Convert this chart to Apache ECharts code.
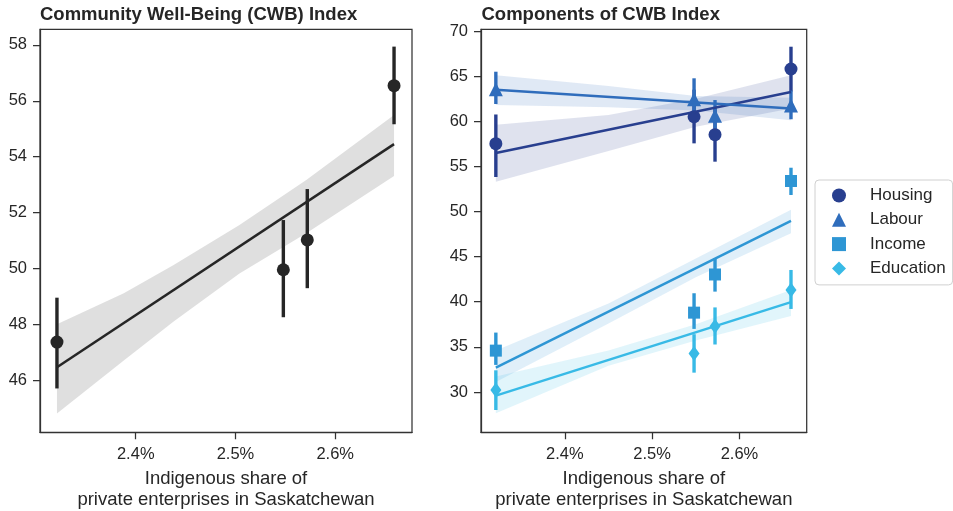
<!DOCTYPE html>
<html>
<head>
<meta charset="utf-8">
<script src="https://cdn.jsdelivr.net/npm/echarts@6/dist/echarts.min.js"></script>
<style>
  html, body { margin: 0; padding: 0; background: #fff; }
  #chart { width: 953px; height: 511px; }
</style>
</head>
<body>
<div id="chart"></div>
<script>
// Indigenous share of private enterprises (%), one value per observation year
const shareX = [2.321, 2.548, 2.572, 2.659];

// Overall CWB index: mean with confidence interval
const cwbMean = [47.36, 49.95, 51.02, 56.54];
const cwbLow  = [45.70, 48.25, 49.29, 55.16];
const cwbHigh = [48.95, 51.73, 52.84, 57.94];
const cwbFit  = [46.46, 54.45];
const cwbBandX = [2.321, 2.388, 2.438, 2.504, 2.571, 2.659];
const cwbBandLow  = [44.80, 46.70, 48.10, 49.82, 51.26, 53.31];
const cwbBandHigh = [48.00, 49.11, 50.12, 51.55, 53.16, 55.49];

// Components
const componentNames = ['Housing', 'Labour', 'Income', 'Education'];

const housingMean = [57.51, 60.50, 58.51, 65.79];
const housingLow  = [53.82, 57.55, 55.52, 63.30];
const housingHigh = [60.75, 63.50, 61.50, 68.26];
const housingFit  = [56.49, 63.25];

const labourMean = [63.54, 62.45, 60.60, 61.75];
const labourLow  = [61.91, 60.40, 59.00, 60.22];
const labourHigh = [65.49, 64.76, 62.35, 63.40];
const labourFit  = [63.50, 61.40];

const incomeMean = [34.58, 38.79, 43.02, 53.38];
const incomeLow  = [33.00, 36.99, 41.12, 51.83];
const incomeHigh = [36.58, 40.94, 44.82, 54.85];
const incomeFit  = [32.70, 48.97];

const educationMean = [30.22, 34.25, 37.27, 41.30];
const educationLow  = [28.00, 32.14, 35.26, 39.20];
const educationHigh = [32.40, 36.40, 39.37, 43.52];
const educationFit  = [29.59, 39.95];

// Confidence bands of the component fits
const compBandX = [2.321, 2.450, 2.550, 2.659];
const housingBandLow    = [53.30, 56.70, 59.40, 61.40];
const housingBandHigh   = [59.60, 60.70, 62.50, 65.10];
const labourBandLow     = [61.80, 61.55, 61.20, 60.10];
const labourBandHigh    = [65.10, 63.90, 62.80, 62.60];
const incomeBandLow     = [31.10, 37.60, 42.70, 47.60];
const incomeBandHigh    = [34.60, 39.80, 44.80, 50.20];
const educationBandLow  = [27.64, 32.90, 35.70, 38.42];
const educationBandHigh = [31.70, 34.60, 37.50, 41.30];

// Tick positions
const xTicks = [2.4, 2.5, 2.6];
const cwbTicks = [46, 48, 50, 52, 54, 56, 58];
const compTicks = [30, 35, 40, 45, 50, 55, 60, 65, 70];

const FONT = 'Liberation Sans, Arial, Helvetica, sans-serif';
const INK = '#262626';

function hexAlpha(hex, a) {
  const n = parseInt(hex.slice(1), 16);
  return 'rgba(' + ((n >> 16) & 255) + ',' + ((n >> 8) & 255) + ',' + (n & 255) + ',' + a + ')';
}

function bandSeries(axis, xs, lo, hi, color) {
  return {
    type: 'custom', xAxisIndex: axis, yAxisIndex: axis, silent: true,
    data: [[xs[0], lo[0]]],
    renderItem: function (params, api) {
      const pts = [];
      for (let i = 0; i < xs.length; i++) pts.push(api.coord([xs[i], hi[i]]));
      for (let i = xs.length - 1; i >= 0; i--) pts.push(api.coord([xs[i], lo[i]]));
      return { type: 'polygon', shape: { points: pts }, style: { fill: hexAlpha(color, 0.15) } };
    }
  };
}

function fitSeries(axis, fit, color) {
  return {
    type: 'line', xAxisIndex: axis, yAxisIndex: axis, silent: true,
    data: [[shareX[0], fit[0]], [shareX[shareX.length - 1], fit[1]]],
    symbol: 'none', lineStyle: { color: color, width: 2.5 }
  };
}

function errSeries(axis, lo, hi, color) {
  return {
    type: 'custom', xAxisIndex: axis, yAxisIndex: axis, silent: true,
    data: shareX.map((x, i) => [x, lo[i], hi[i]]),
    encode: { x: 0, y: [1, 2] },
    renderItem: function (params, api) {
      const a = api.coord([api.value(0), api.value(1)]);
      const b = api.coord([api.value(0), api.value(2)]);
      return { type: 'line', shape: { x1: a[0], y1: a[1], x2: b[0], y2: b[1] },
               style: { stroke: color, lineWidth: 3.4 } };
    }
  };
}

function pointSeries(axis, name, mean, color, symbol, size) {
  return {
    type: 'scatter', name: name, xAxisIndex: axis, yAxisIndex: axis,
    data: shareX.map((x, i) => [x, mean[i]]),
    symbol: symbol, symbolSize: size,
    itemStyle: { color: color, opacity: 1 }
  };
}

function xAxisDef(grid) {
  return {
    type: 'value', gridIndex: grid, min: 2.304, max: 2.677,
    name: 'Indigenous share of\nprivate enterprises in Saskatchewan',
    nameLocation: 'middle', nameGap: 33,
    nameTextStyle: { fontFamily: FONT, fontSize: 18.5, color: INK, lineHeight: 21 },
    axisLine: { show: true, onZero: false, lineStyle: { color: '#333', width: 1.25 } },
    axisTick: { show: true, length: 7, customValues: xTicks, lineStyle: { color: '#333', width: 1.25 } },
    axisLabel: { customValues: xTicks, margin: 14, fontFamily: FONT, fontSize: 16.5, color: INK,
                 formatter: v => v.toFixed(1) + '%' },
    splitLine: { show: false }
  };
}

function yAxisDef(grid, min, max, ticks) {
  return {
    type: 'value', gridIndex: grid, min: min, max: max,
    axisLine: { show: true, onZero: false, lineStyle: { color: '#333', width: 1.25 } },
    axisTick: { show: true, length: 7, customValues: ticks, lineStyle: { color: '#333', width: 1.25 } },
    axisLabel: { customValues: ticks, margin: 13, fontFamily: FONT, fontSize: 16.5, color: INK },
    splitLine: { show: false }
  };
}

const compColors = {
  Housing: '#283f8f',
  Labour: '#2f6dbc',
  Income: '#2e96d4',
  Education: '#38bae6'
};

const components = [
  { name: 'Housing', mean: housingMean, low: housingLow, high: housingHigh, fit: housingFit,
    bandLow: housingBandLow, bandHigh: housingBandHigh, symbol: 'circle', size: 13 },
  { name: 'Labour', mean: labourMean, low: labourLow, high: labourHigh, fit: labourFit,
    bandLow: labourBandLow, bandHigh: labourBandHigh, symbol: 'triangle', size: 14 },
  { name: 'Income', mean: incomeMean, low: incomeLow, high: incomeHigh, fit: incomeFit,
    bandLow: incomeBandLow, bandHigh: incomeBandHigh, symbol: 'rect', size: 12 },
  { name: 'Education', mean: educationMean, low: educationLow, high: educationHigh, fit: educationFit,
    bandLow: educationBandLow, bandHigh: educationBandHigh, symbol: 'diamond', size: [11, 15] }
];

const series = [
  errSeries(0, cwbLow, cwbHigh, INK),
  pointSeries(0, 'CWB', cwbMean, INK, 'circle', 13),
  bandSeries(0, cwbBandX, cwbBandLow, cwbBandHigh, INK),
  fitSeries(0, cwbFit, INK)
];
components.forEach(c => {
  const col = compColors[c.name];
  series.push(errSeries(1, c.low, c.high, col));
  series.push(pointSeries(1, c.name, c.mean, col, c.symbol, c.size));
  series.push(bandSeries(1, compBandX, c.bandLow, c.bandHigh, col));
  series.push(fitSeries(1, c.fit, col));
});

const chart = echarts.init(document.getElementById('chart'), null, { renderer: 'canvas' });
chart.setOption({
  animation: false,
  backgroundColor: '#fff',
  title: [
    { text: 'Community Well-Being (CWB) Index', left: 40, top: 5, padding: 0,
      textStyle: { fontFamily: FONT, fontSize: 18.5, fontWeight: 'bold', color: INK } },
    { text: 'Components of CWB Index', left: 481.5, top: 5, padding: 0,
      textStyle: { fontFamily: FONT, fontSize: 18.5, fontWeight: 'bold', color: INK } }
  ],
  grid: [
    { left: 40, top: 29.3, width: 372, height: 403, outerBoundsMode: 'none', containLabel: false,
      show: true, borderColor: '#333', borderWidth: 1.25, backgroundColor: 'transparent' },
    { left: 481, top: 29.3, width: 325.7, height: 403, outerBoundsMode: 'none', containLabel: false,
      show: true, borderColor: '#333', borderWidth: 1.25, backgroundColor: 'transparent' }
  ],
  xAxis: [xAxisDef(0), xAxisDef(1)],
  yAxis: [yAxisDef(0, 44.13, 58.56, cwbTicks), yAxisDef(1, 25.53, 70.19, compTicks)],
  legend: {
    orient: 'vertical', left: 815, top: 180,
    data: componentNames.map((n, i) => ({ name: n, icon: components[i].symbol })),
    itemWidth: 14, itemHeight: 14, itemGap: 7.3,
    padding: [7, 7, 8, 17],
    borderColor: '#d0d0d0', borderWidth: 1, borderRadius: 4, backgroundColor: '#fff',
    textStyle: { fontFamily: FONT, fontSize: 17, color: INK, padding: [0, 0, 0, 19], lineHeight: 14 },
    selectedMode: false
  },
  series: series
});
</script>
</body>
</html>
